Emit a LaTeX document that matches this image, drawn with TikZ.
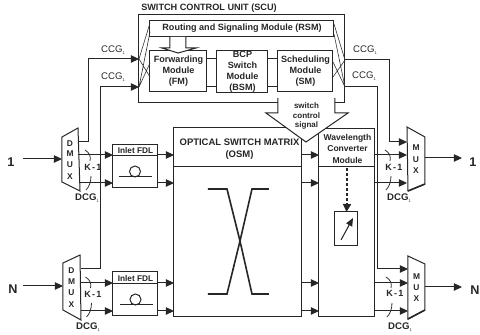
\documentclass[tikz,border=0pt]{standalone}
\usepackage{fontspec}
\setmainfont{Liberation Sans}
\usetikzlibrary{arrows.meta}
\tikzset{
 ln/.style={draw=black!85,line width=0.75pt},
 thn/.style={draw=black!80,line width=0.45pt},
 ar/.style={ln,-{Triangle[length=6pt,width=5.5pt]}},
 lab/.style={font=\fontsize{6.8}{8.2}\selectfont\bfseries,align=center,inner sep=0pt,text=black!85},
 capt/.style={font=\fontsize{7.2}{8}\selectfont,inner sep=0pt,text=black!85},
 muxl/.style={font=\fontsize{6.3}{7}\selectfont\bfseries,inner sep=0pt,text=black!85},
 num/.style={font=\fontsize{9.5}{10}\selectfont\bfseries,inner sep=0pt,text=black!85},
 thickx/.style={draw=black!85,line width=1.2pt},
 boxn/.style={ln,fill=white,inner sep=0pt,outer sep=0pt},
}
\newcommand{\boxnode}[6]{\node[boxn,lab,minimum width={(#4-#2)*0.75pt},minimum height={(#5-#3)*0.75pt}] (#1) at ({(#2+#4)/2},{(#3+#5)/2}) {#6};}
\newcommand{\ccgtext}[1]{CCG\raisebox{-1.5pt}{\fontsize{3}{3}\selectfont #1}}
\newcommand{\dcgtext}[1]{\textbf{DCG}\raisebox{-1.5pt}{\fontsize{3}{3}\selectfont #1}}
\newcommand{\kone}{K\kern0.9pt-\kern0.9pt1}
\begin{document}
\begin{tikzpicture}[x=0.75pt,y=-0.75pt]
\useasboundingbox (0,0) rectangle (480,335);
% ports
\foreach \n/\x/\y in {cl1/139/59,cl2/139/87,cr1/345/60,cr2/345/87,
  rl/150/23,rlb/150/32,rr/334/24,rrb/334/34,
  fa/150/77,fb/150/63,sa/333/77,sb/333/62,
  dt/78/142,db/81/269,mt/407/142,mb/408/269,
  lt/89/59,lb/101/87,rt/390/60,rb/378/87,
  ltb/89/142,lbb/101/269,rtb/390/142,rbb/378/269,
  in1/23/159,inN/23/286,
  d1a/78/155,d1b/80/183,dNa/81/283,dNb/81/311,
  f1a/113/155,f1b/113/183,fNa/113/283,fNb/113/311,
  g1a/158/155,g1b/158/183,gNa/158/283,gNb/158/311,
  o1a/174/155,o1b/174/183,oNa/174/283,oNb/174/311,
  p1a/302/155,p1b/302/183,pNa/302/283,pNb/302/311,
  w1a/319/155,w1b/319/183,wNa/319/283,wNb/319/311,
  v1a/375/155,v1b/375/183,vNa/375/283,vNb/375/311,
  m1a/407/155,m1b/407/183,mNa/408/283,mNb/408/311,
  dm1/62/159,dmN/63/286,mo1/425/158,moN/425/287,
  out1/462/158,outN/462/287,dot/347/168}
  {\coordinate (\n) at (\x,\y);}
% Optical switch matrix
\boxnode{osm}{173.5}{128}{302}{317}{}
\node[lab,font=\fontsize{7.1}{9}\selectfont\bfseries] (osmt) at (239.5,149) {OPTICAL SWITCH MATRIX\\(OSM)};
\draw[ln] (173.5,167) -- (302,167);
% Wavelength converter
\boxnode{wcm}{319}{129}{375}{317}{}
\node[lab,font=\fontsize{6.4}{8.6}\selectfont\bfseries] (wcmt) at (347.5,148.5) {Wavelength\\Converter\\Module};
\draw[ln] (319,167) -- (375,167);
% crossing
\draw[thickx] (208,189) -- (227,189) -- (240,241) -- (227,294) -- (208,294);
\draw[thickx] (269,189) -- (252,189) -- (240,241) -- (252,294) -- (269,294);
% SCU
\node[lab,font=\fontsize{6.85}{7.5}\selectfont\bfseries,anchor=west] (scutitle) at (141,8) {SWITCH CONTROL UNIT (SCU)};
\draw[ln] (139,103) -- (139,15) -- (345,15) -- (345,103) -- cycle;
% RSM
\boxnode{rsm}{150}{20.5}{334}{36.5}{Routing and Signaling Module (RSM)}
% modules
\boxnode{fm}{150}{51}{207}{92}{Forwarding\\Module\\(FM)}
\boxnode{bsm}{217}{51}{268}{92}{BCP\\Switch\\Module\\(BSM)}
\boxnode{sm}{278}{51}{333}{92}{Scheduling\\Module\\(SM)}
\draw[ln] (fm.east |- 0,59) -- (bsm.west |- 0,59) (bsm.east |- 0,59) -- (sm.west |- 0,59);
\draw[ln] (fm.east |- 0,87) -- (bsm.west |- 0,87) (bsm.east |- 0,87) -- (sm.west |- 0,87);
% arrow RSM->FM
\draw[ln,fill=white] (170,37) -- (170,48) -- (162,48) -- (178,53) -- (196,48) -- (186,48) -- (186,37);
% fans
\draw[thn] (cl1) -- (rl) (cl1) -- (fa) (cl2) -- (rlb) (cl2) -- (fb);
\draw[thn] (cr1) -- (rr) (cr1) -- (sa) (cr2) -- (rrb) (cr2) -- (sb);
% switch control signal arrow
\draw[ln,fill=white] (278,98) -- (278,113) -- (266,113) -- (306,142) -- (348,113) -- (335,113) -- (335,98);
\draw[draw=white,line width=1.4pt] (279,103) -- (334,103);
\node[lab,font=\fontsize{6}{6.9}\selectfont\bfseries,align=center] (sig) at (306.5,116) {switch\\control\\signal};
% DMUX / MUX
\draw[ln] (62,137) -- (78,128) -- (80,191) -- (62,182) -- cycle;
\draw[ln] (63,263) -- (80,255) -- (81,320) -- (63,310) -- cycle;
\draw[ln] (407,127) -- (425,137) -- (425,184) -- (408,191) -- cycle;
\draw[ln] (408,256) -- (425,264) -- (425,310) -- (408,319) -- cycle;
\draw[draw=black!85,line width=1.2pt] (408,191) -- (425,184);
\draw[draw=black!85,line width=1.2pt] (408,319) -- (425,310);
\foreach \t/\y [count=\i] in {D/144,M/154,U/165,X/177} {\node[muxl] (da\i) at (70,\y) {\t};}
\foreach \t/\y [count=\i] in {D/271,M/282,U/293,X/305} {\node[muxl] (db\i) at (71.5,\y) {\t};}
\foreach \t/\y [count=\i] in {M/148,U/160,X/171} {\node[muxl] (ma\i) at (416,\y) {\t};}
\foreach \t/\y [count=\i] in {M/277,U/288,X/299} {\node[muxl] (mb\i) at (416.5,\y) {\t};}
% CCG wires
\draw[ar] (dt) -- (ltb) -- (lt) -- (cl1);
\draw[ar] (db) -- (lbb) -- (lb) -- (cl2);
\draw[ar] (cr1) -- (rt) -- (rtb) -- (mt);
\draw[ar] (cr2) -- (rb) -- (rbb) -- (mb);
% in/out
\node[num] (n1l) at (11,162) {1};
\node[num] (nNl) at (13,289) {N};
\node[num] (n1r) at (473,162) {1};
\node[num] (nNr) at (475,290) {N};
\draw[ar] (in1) -- (dm1);
\draw[ar] (inN) -- (dmN);
\draw[ar] (mo1) -- (out1);
\draw[ar] (moN) -- (outN);
% Inlet FDL
\boxnode{fdla}{113}{145}{158}{188}{}
\boxnode{fdlb}{113}{272}{158}{316}{}
\draw[ln] (113,156) -- (158,156) (113,284) -- (158,284);
\node[lab,font=\fontsize{6.2}{7}\selectfont\bfseries] (fdlat) at (135.5,151) {Inlet FDL};
\node[lab,font=\fontsize{6.2}{7}\selectfont\bfseries] (fdlbt) at (135.5,279) {Inlet FDL};
\draw[ln] (119,177) -- (152,177);
\draw[ln] (120,305) -- (153,305);
\draw[ln] (135,171.5) circle (5.5);
\draw[ln] (135.5,299.5) circle (5.5);
% short arrows
\foreach \a/\b in {d1a/f1a,d1b/f1b,dNa/fNa,dNb/fNb,g1a/o1a,g1b/o1b,gNa/oNa,gNb/oNb,p1a/w1a,p1b/w1b,pNa/wNa,pNb/wNb,v1a/m1a,v1b/m1b,vNa/mNa,vNb/mNb}
  {\draw[ar] (\a) -- (\b);}
% K-1 arcs
\foreach \dx/\yy in {85/150,85.5/277,385/150,386/277} {
  \draw[thn,line width=.6pt] (\dx,\yy) .. controls (\dx+5,\yy+3) and (\dx+6,\yy+7) .. (\dx+5,\yy+11);
  \draw[thn,line width=.6pt] (\dx+6,\yy+26) .. controls (\dx+6,\yy+32) and (\dx+4,\yy+37) .. (\dx+1,\yy+40);
}
\node[lab] (k1) at (93,167) {\kone};
\node[lab] (k2) at (93,294) {\kone};
\node[lab] (k3) at (394,167) {\kone};
\node[lab] (k4) at (395,293) {\kone};
% labels
\node[capt] (c1) at (113,50) {\ccgtext{1}};
\node[capt] (c2) at (113,77) {\ccgtext{1}};
\node[capt] (c3) at (365,50) {\ccgtext{1}};
\node[capt] (c4) at (364,76) {\ccgtext{1}};
\node[capt] (d1) at (87,198) {\dcgtext{1}};
\node[capt] (d2) at (88,327) {\dcgtext{1}};
\node[capt] (d3) at (399,198) {\dcgtext{1}};
\node[capt] (d4) at (400,327) {\dcgtext{1}};
% tunable element
\boxnode{tun}{335}{212}{358}{246}{}
\draw[draw=black!85,line width=2pt,dash pattern=on 2.2pt off 1.6pt] (dot) -- (347,206);
\draw[ln,-{Triangle[length=6pt,width=6pt]},line width=1.1pt] (347,204) -- (tun.north);
\coordinate (ta) at (341,240);
\coordinate (tb) at (353,218);
\draw[ln,-{Triangle[length=6pt,width=5pt]}] (ta) -- (tb);
\end{tikzpicture}
\end{document}
